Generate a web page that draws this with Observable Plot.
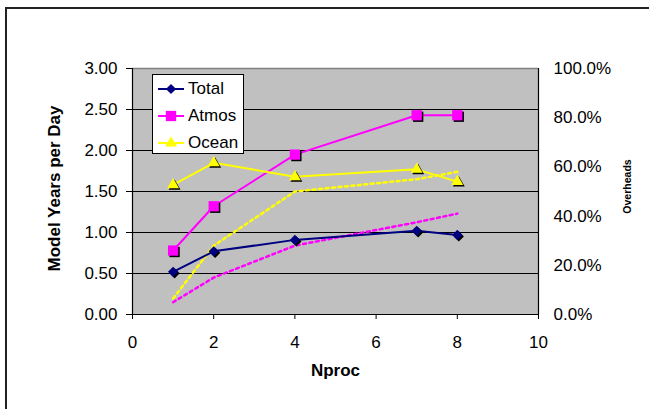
<!DOCTYPE html>
<html>
<head>
<meta charset="utf-8">
<script src="https://cdn.jsdelivr.net/npm/d3@7"></script>
<script src="https://cdn.jsdelivr.net/npm/@observablehq/plot@0.6"></script>
<style>
  html, body { margin: 0; padding: 0; background: #fff; }
  #wrap { position: relative; width: 649px; height: 409px; overflow: hidden; font-family: "Liberation Sans", Arial, sans-serif; }
  #wrap svg { position: absolute; left: 0; top: 0; }
  #border { position: absolute; left: 5px; top: 7px; width: 700px; height: 500px; border-left: 2px solid #222; border-top: 2px solid #222; pointer-events: none; }
</style>
</head>
<body>
<div id="wrap"><div id="border"></div></div>
<script>
// ---- data ----
const nproc = [1, 2, 4, 7, 8];
const total = [0.52, 0.77, 0.91, 1.02, 0.97];
const atmos = [0.78, 1.32, 1.95, 2.43, 2.43];
const ocean = [1.58, 1.85, 1.68, 1.77, 1.62];
const atmosOverhead = [0.05, 0.15, 0.28, 0.375, 0.41];
const oceanOverhead = [0.065, 0.28, 0.50, 0.55, 0.58];
const seriesNames = ["Total", "Atmos", "Ocean"];
const seriesColors = ["#000080", "#FF00FF", "#FFFF00"];
const seriesSymbols = ["diamond2", "square", "triangle"];
const leftTicks = [0, 0.5, 1, 1.5, 2, 2.5, 3];
const rightTicks = [0, 0.2, 0.4, 0.6, 0.8, 1.0];
const xTicks = [0, 2, 4, 6, 8, 10];
const yTitle = "Model Years per Day";
const xTitle = "Nproc";
const rightTitle = "Overheads";

// ---- build ----
const yMax = 3, rightMax = 1;
const k = yMax / rightMax;
const seriesValues = [total, atmos, ocean];
const markerR = [4.6, 5.8, 4.4];
const series = seriesNames.map((name, i) => ({
  name, color: seriesColors[i], symbol: seriesSymbols[i], r: markerR[i],
  rows: nproc.map((n, j) => ({n, v: seriesValues[i][j]}))
}));
const overheads = [
  {color: seriesColors[2], rows: nproc.map((n, j) => ({n, v: oceanOverhead[j]}))},
  {color: seriesColors[1], rows: nproc.map((n, j) => ({n, v: atmosOverhead[j]}))}
];

const marks = [
  Plot.frame({fill: "#C0C0C0", stroke: null}),
  Plot.ruleY(leftTicks, {stroke: "#000", strokeWidth: 1}),
  Plot.ruleY([yMax], {stroke: "#808080", strokeWidth: 1.5}),
];
for (const o of overheads) {
  marks.push(Plot.line(o.rows, {x: "n", y: d => d.v * k, stroke: o.color, strokeWidth: 2.5, strokeDasharray: "3,3.5"}));
}
for (const s of series) {
  marks.push(Plot.line(s.rows, {x: "n", y: "v", stroke: s.color, strokeWidth: 2}));
}
marks.push(Plot.ruleX([0], {stroke: "#000", strokeWidth: 1.2}));
marks.push(Plot.ruleX([10], {stroke: "#000", strokeWidth: 1.2}));
marks.push(Plot.ruleY([0], {stroke: "#000", strokeWidth: 1.2}));
for (const s of series) {
  marks.push(Plot.dot(s.rows, {x: "n", y: "v", symbol: () => s.symbol, r: s.r, fill: "#000", stroke: null, dx: 1.5, dy: 1.5}));
  marks.push(Plot.dot(s.rows, {x: "n", y: "v", symbol: () => s.symbol, r: s.r, fill: s.color, stroke: null}));
}
marks.push(
  Plot.axisY(leftTicks, {anchor: "left", tickSize: 6, tickPadding: 9, tickFormat: d3.format(".2f"), label: null}),
  Plot.axisY(rightTicks.map(v => v * k), {anchor: "right", tickSize: 0, tickPadding: 15, tickFormat: d => (d / k * 100).toFixed(1) + "%", label: null}),
  Plot.axisX(xTicks, {anchor: "bottom", tickSize: 5, tickPadding: 16, label: null}),
  Plot.text([yTitle], {frameAnchor: "left", textAnchor: "middle", dx: -78, dy: -3, rotate: -90, fontWeight: "bold", fontSize: 17}),
  Plot.text([xTitle], {frameAnchor: "bottom", textAnchor: "middle", dy: 61, fontWeight: "bold", fontSize: 17}),
  Plot.text([rightTitle], {frameAnchor: "right", textAnchor: "middle", dx: 89, dy: -5, rotate: -90, fontWeight: "bold", fontSize: 10.5})
);

const chart = Plot.plot({
  width: 649, height: 409,
  marginLeft: 132, marginRight: 111, marginTop: 68, marginBottom: 95,
  style: {fontSize: "17px", fontFamily: "'Liberation Sans', Arial, sans-serif", background: "transparent", color: "#000"},
  x: {domain: [0, 10]},
  y: {domain: [0, yMax]},
  marks
});
const wrap = document.getElementById("wrap");
wrap.insertBefore(chart, wrap.firstChild);

// ---- legend ----
const legend = d3.select(wrap).append("div")
  .style("position", "absolute").style("left", "152px").style("top", "74px")
  .style("width", "92px").style("height", "80px").style("box-sizing", "border-box")
  .style("border", "1px solid #000").style("background", "#fff");
const symTypes = {diamond2: d3.symbolDiamond2, square: d3.symbolSquare, triangle: d3.symbolTriangle};
series.forEach((s, i) => {
  const row = legend.append("div").style("position", "absolute")
    .style("left", "0px").style("top", (4 + 27 * i) + "px").style("height", "20px").style("width", "90px");
  const sw = row.append("svg").attr("width", 28).attr("height", 20)
    .style("position", "absolute").style("left", "4px").style("top", "0px");
  sw.append("line").attr("x1", 1).attr("x2", 27).attr("y1", 10).attr("y2", 10)
    .attr("stroke", s.color).attr("stroke-width", 2);
  sw.append("path").attr("transform", "translate(14,10)")
    .attr("d", d3.symbol(symTypes[s.symbol], Math.PI * s.r * s.r)())
    .attr("fill", s.color);
  row.append("span").text(s.name)
    .style("position", "absolute").style("left", "35px").style("top", "0px")
    .style("font-size", "17px").style("line-height", "20px");
});
</script>
</body>
</html>
